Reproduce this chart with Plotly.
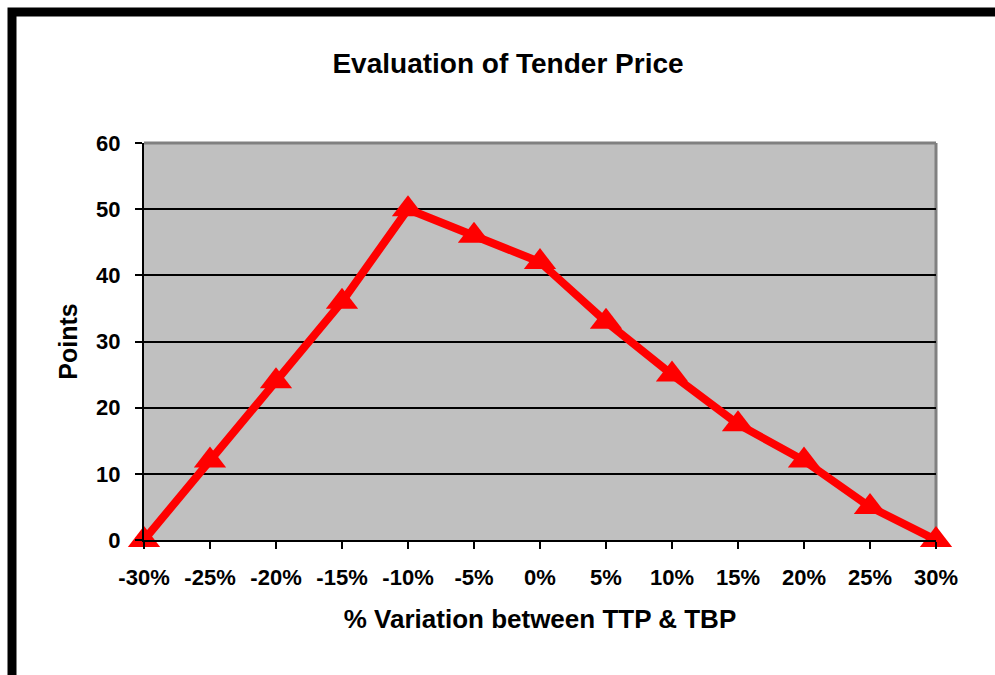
import plotly.graph_objects as go

categories = ["-30%", "-25%", "-20%", "-15%", "-10%", "-5%", "0%", "5%", "10%", "15%", "20%", "25%", "30%"]
points = [0, 12, 24, 36, 50, 46, 42, 33, 25, 17.5, 12, 5, 0]
y_ticks = [0, 10, 20, 30, 40, 50, 60]

W, H = 995, 675
L, R, T, B = 144, 59, 143, 135
pw, ph = W - L - R, H - T - B

def px_x(x):
    return (x - L) / pw

def px_y(y):
    return (H - B - y) / ph

font_family = "Liberation Sans, Arial, sans-serif"

fig = go.Figure()
fig.add_trace(go.Scatter(
    x=categories, y=points, mode="lines+markers",
    line=dict(color="#FF0000", width=8),
    marker=dict(symbol="triangle-up", size=28, color="#FF0000", line=dict(width=0)),
    cliponaxis=False, showlegend=False,
))

fig.update_layout(
    width=W, height=H,
    margin=dict(l=L, r=R, t=T, b=B, pad=0),
    paper_bgcolor="white", plot_bgcolor="#C0C0C0",
    font=dict(family=font_family, color="black"),
    title=dict(text="<b>Evaluation of Tender Price</b>", x=508 / W, xanchor="center",
               y=1 - 63 / H, yanchor="middle", font=dict(size=28, family=font_family)),
    xaxis=dict(type="category", range=[0, 12], showgrid=False, showline=True,
               linecolor="black", linewidth=2, ticks="outside", ticklen=7, tickwidth=2,
               tickcolor="black", tickfont=dict(size=22, family=font_family),
               tickmode="array", tickvals=categories,
               ticktext=["<b>%s</b>" % c for c in categories], ticklabelstandoff=10,
               title=dict(text="<b>% Variation between TTP & TBP</b>", font=dict(size=26), standoff=20)),
    yaxis=dict(range=[0, 60], tickmode="array", tickvals=y_ticks,
               ticktext=["<b>%d</b>" % v for v in y_ticks],
               showgrid=True, gridcolor="black", gridwidth=2,
               zeroline=False, showline=True, linecolor="black", linewidth=2,
               ticks="outside", ticklen=7, tickwidth=2, tickcolor="black",
               tickfont=dict(size=22, family=font_family),
               ticklabelstandoff=10,
               title=dict(text="<b>Points</b>", font=dict(size=25), standoff=11)),
    shapes=[
        dict(type="line", xref="paper", yref="paper", x0=0, x1=1, y0=1, y1=1,
             line=dict(color="#808080", width=3), layer="above"),
        dict(type="line", xref="paper", yref="paper", x0=1, x1=1, y0=0, y1=1,
             line=dict(color="#808080", width=3), layer="below"),
        dict(type="rect", xref="paper", yref="paper",
             x0=px_x(12), x1=px_x(1020), y0=px_y(690), y1=px_y(12),
             line=dict(color="black", width=9), fillcolor="rgba(0,0,0,0)", layer="above"),
    ],
)

fig.write_html("out.html", config={"displayModeBar": False},
               post_script="document.body.style.margin='0';")
